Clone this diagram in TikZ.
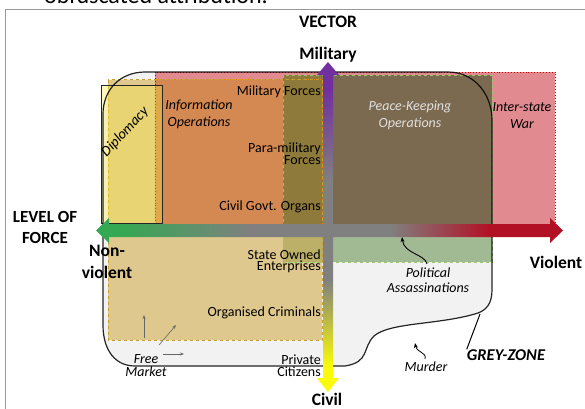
\documentclass[tikz,border=0pt]{standalone}
\usepackage{fontspec}
\setmainfont{Carlito}
\usetikzlibrary{patterns.meta,arrows.meta}
\definecolor{fgreen}{RGB}{52,168,82}
\definecolor{fgrey}{RGB}{128,128,128}
\definecolor{fred}{RGB}{178,16,36}
\definecolor{vyellow}{RGB}{250,250,10}
\definecolor{vpurple}{RGB}{112,48,160}
\definecolor{pinkc}{RGB}{225,138,144}
\definecolor{tanc}{RGB}{222,200,142}
\definecolor{orangec}{RGB}{212,136,82}
\definecolor{olivec}{RGB}{142,122,58}
\definecolor{brownc}{RGB}{124,106,80}
\definecolor{olivelow}{RGB}{188,176,104}
\definecolor{greenc}{RGB}{162,186,148}
\definecolor{dipc}{RGB}{255,238,60}
\definecolor{tanborder}{RGB}{200,160,40}
\definecolor{greenborder}{RGB}{150,200,110}
\pgfdeclarehorizontalshading{forceshade}{100bp}{color(0bp)=(fgreen); color(27.6bp)=(fgreen); color(41.5bp)=(fgrey); color(56.5bp)=(fgrey); color(67.2bp)=(fred); color(100bp)=(fred)}
\pgfdeclareverticalshading{vectorshade}{100bp}{color(0bp)=(vyellow); color(29bp)=(vyellow); color(42bp)=(fgrey); color(57bp)=(fgrey); color(71bp)=(vpurple); color(100bp)=(vpurple)}
\newcommand\gzshape[1]{\path[#1] (145,72) -- (448,72) .. controls (475,72) and (492,95) .. (492,120) -- (492,290) .. controls (492,304) and (486,310) .. (478,313) .. controls (440,325) and (390,322) .. (374,336) .. controls (362,348) and (370,362) .. (345,366) -- (135,366) .. controls (115,366) and (103,350) .. (103,325) -- (103,114) .. controls (103,90) and (120,72) .. (145,72) -- cycle;}
\tikzset{
  body/.style={font={\fontsize{14}{11}\selectfont}, inner sep=0pt},
  bodyit/.style={font={\fontsize{14}{17}\selectfont\itshape}, inner sep=0pt, align=center},
  big/.style={font={\fontsize{17.5}{22}\selectfont\bfseries}, inner sep=0pt, align=center},
  vecitem/.style={body, anchor=east, align=right},
  smallarr/.style={draw=black!60, line width=0.6pt, -{Stealth[length=4pt,width=3pt]}},
  ptr/.style={draw=black, line width=0.9pt, -{Stealth[length=5pt,width=4pt]}}
}
\begin{document}
\begin{tikzpicture}[x=1pt,y=-1pt]
\path[use as bounding box, clip] (0,0) rectangle (585,408);
\fill[white] (0,0) rectangle (585,408);
% cropped caption at top
\node[font={\fontsize{24}{28}\selectfont}, anchor=base, inner sep=0pt] (caption) at (156,3.5) {obfuscated attribution.};
% frame
\draw[black!40, line width=1.3pt] (5.5,9.5) rectangle (640,460);
% grey-zone interior
\gzshape{preaction={fill=white}, pattern={Dots[radius=0.38pt,distance=2pt]}, pattern color=black!60}
% regions
\fill[pinkc] (155,72) rectangle (555,226);
\fill[tanc] (108,79.5) rectangle (322,340);
\fill[orangec] (155,79.5) rectangle (322,226);
\fill[greenc] (283,75) rectangle (492,262);
\fill[olivelow] (283,237) rectangle (323,262);
\fill[olivec] (283,75) rectangle (323,226);
\fill[brownc] (328,75) rectangle (492,226);
% borders
\draw[red!75!black, dotted, line width=0.9pt] (155,72) rectangle (555,226);
\draw[orange!90!red, dotted, line width=0.9pt] (155,79.5) rectangle (322,226);
\draw[tanborder, dashed, line width=1pt] (108,79.5) rectangle (322,340);
\draw[greenborder, dashed, line width=1pt] (283,75) rectangle (492,262);
% diplomacy box
\path[fill=dipc, fill opacity=0.32, draw=black!85, line width=0.7pt] (101,85) rectangle (162,223.5);
% grey-zone outline
\gzshape{draw=black, line width=1.2pt, draw opacity=0.85}
% axes
\shade[shading=forceshade] (96,230.5) -- (109,218) -- (109,224) -- (550,224) -- (550,218) -- (563,230.5) -- (550,243) -- (550,237) -- (109,237) -- (109,243) -- cycle;
\shade[shading=vectorshade] (328,62) -- (339,75) -- (333,75) -- (333,378) -- (339,378) -- (328,392) -- (317,378) -- (323,378) -- (323,75) -- (317,75) -- cycle;
% axis labels
\node[big] (vector) at (328,22) {VECTOR};
\node[big] (military) at (328,55) {Military};
\node[big] (civil) at (327,399) {Civil};
\node[big, font={\fontsize{17}{21}\selectfont\bfseries}] (lof) at (45,227.5) {LEVEL OF\\FORCE};
\node[big] (nonviolent) at (107,261.5) {Non-\\violent};
\node[big] (violent) at (556,262) {Violent};
% vector items
\node[vecitem] (milforces) at (321,92) {Military Forces};
\node[vecitem] (paramil) at (321,153.5) {Para-military\\Forces};
\node[vecitem] (civgov) at (321,207) {Civil Govt. Organs};
\node[vecitem] (soe) at (321,261.5) {State Owned\\Enterprises};
\node[vecitem] (crim) at (321,313) {Organised Criminals};
\node[vecitem, font={\fontsize{14}{12}\selectfont}] (priv) at (321,366) {Private\\Citizens};
% activity labels
\node[bodyit] (infoops) at (199,114) {Information\\Operations};
\node[bodyit, font={\fontsize{14.5}{17}\selectfont\itshape}, rotate=47] (diplo) at (125,132) {Diplomacy};
\node[bodyit, text=black!12] (peace) at (410,115.5) {Peace-Keeping\\Operations};
\node[bodyit] (war) at (522,115.5) {Inter-state\\War};
\node[bodyit, font={\fontsize{14}{13}\selectfont\itshape}] (freem) at (146,365.5) {Free\\Market};
\node[bodyit, font={\fontsize{14}{15}\selectfont\itshape}] (polass) at (428,280.5) {Political\\Assassinations};
\node[bodyit] (murder) at (426,367) {Murder};
\node[font={\fontsize{16.5}{20}\selectfont\bfseries\itshape}, inner sep=0pt] (greyzone) at (506,355) {GREY-ZONE};
% small arrows
\coordinate (fa1) at (144,338); \coordinate (fa1e) at (144,315);
\coordinate (fa2) at (159,345); \coordinate (fa2e) at (176,325);
\coordinate (fa3) at (163,354); \coordinate (fa3e) at (184,354);
\draw[smallarr] (fa1) -- (fa1e);
\draw[smallarr] (fa2) -- (fa2e);
\draw[smallarr] (fa3) -- (fa3e);
\coordinate (pa) at (427,264); \coordinate (pae) at (402,237);
\draw[ptr] (pa) .. controls (425,254) and (404,254) .. (pae);
\coordinate (mu) at (425,359); \coordinate (mue) at (415,343);
\draw[ptr, line width=0.8pt] (mu) .. controls (427,352) and (417,353) .. (mue);
\coordinate (gzp) at (480,314);
\draw[black, line width=1pt] (gzp) -- (greyzone.north west);
\end{tikzpicture}
\end{document}
